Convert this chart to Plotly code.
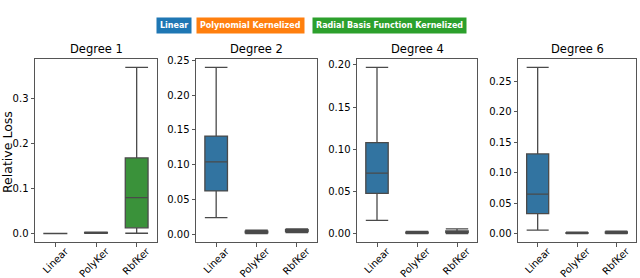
import plotly.graph_objects as go

methods = ["Linear", "PolyKer", "RbfKer"]
panel_titles = ["Degree 1", "Degree 2", "Degree 4", "Degree 6"]
legend_labels = ["Linear", "Polynomial Kernelized", "Radial Basis Function Kernelized"]

# box stats per panel, per method: [lowerfence, q1, median, q3, upperfence]
deg1 = [[0.0, 0.0002, 0.0004, 0.0006, 0.0009],
        [0.0008, 0.0015, 0.002, 0.0028, 0.0035],
        [0.001, 0.013, 0.080, 0.168, 0.369]]
deg2 = [[0.0236, 0.062, 0.104, 0.141, 0.240],
        [0.0005, 0.0018, 0.003, 0.0042, 0.0055],
        [0.002, 0.0035, 0.005, 0.0062, 0.0075]]
deg4 = [[0.016, 0.048, 0.072, 0.108, 0.197],
        [0.0003, 0.001, 0.0015, 0.002, 0.003],
        [0.0003, 0.0015, 0.0025, 0.0035, 0.006]]
deg6 = [[0.006, 0.033, 0.065, 0.131, 0.273],
        [0.0002, 0.0008, 0.0012, 0.0018, 0.0028],
        [0.0002, 0.001, 0.0018, 0.003, 0.0045]]
panels = [deg1, deg2, deg4, deg6]

ytick_vals = [[0.0, 0.1, 0.2, 0.3],
              [0.0, 0.05, 0.10, 0.15, 0.20, 0.25],
              [0.0, 0.05, 0.10, 0.15, 0.20],
              [0.0, 0.05, 0.10, 0.15, 0.20, 0.25]]
ytick_text = [["0.0", "0.1", "0.2", "0.3"],
              ["0.00", "0.05", "0.10", "0.15", "0.20", "0.25"],
              ["0.00", "0.05", "0.10", "0.15", "0.20"],
              ["0.00", "0.05", "0.10", "0.15", "0.20", "0.25"]]

box_colors = ["#3274a1", "#e1812c", "#3a923a"]
legend_colors = ["#1f77b4", "#ff7f0e", "#2ca02c"]
line_color = "#4a4a4a"
frame_color = "#555555"

W, H = 640, 278
px_x = [(35, 157), (196, 317), (357, 477), (518, 636)]
px_y = (59, 242)

fig = go.Figure()
font = "DejaVu Sans"

for i, stats in enumerate(panels):
    ax = "" if i == 0 else str(i + 1)
    for j, m in enumerate(methods):
        lo, q1, med, q3, hi = stats[j]
        fig.add_trace(go.Box(
            x=[m], q1=[q1], median=[med], q3=[q3],
            lowerfence=[lo], upperfence=[hi],
            fillcolor=box_colors[j],
            line=dict(color=line_color, width=1.3),
            whiskerwidth=1,
            boxpoints=False,
            showlegend=False,
            xaxis="x" + ax, yaxis="y" + ax,
        ))
    ymax = max(s[4] for s in stats)
    ymin = min(s[0] for s in stats)
    span = ymax - ymin
    yr = [ymin - 0.05 * span, ymax + 0.05 * span]
    x0, x1 = px_x[i]
    xd = [x0 / W, x1 / W]
    yd = [1 - px_y[1] / H, 1 - px_y[0] / H]
    axis_common = dict(showline=True, mirror=True, linecolor=frame_color, linewidth=1,
                       ticks="outside", ticklen=3.5, tickcolor=frame_color, showgrid=False,
                       zeroline=False, automargin=False,
                       tickfont=dict(family=font, size=10, color="black"))
    fig.layout["xaxis" + ax] = dict(domain=xd, anchor="y" + ax, type="category",
                                    range=[-0.5, 2.5], tickangle=-45,
                                    ticklabelshift=10, ticklabelstandoff=-5,
                                    categoryorder="array", categoryarray=methods,
                                    **axis_common)
    fig.layout["yaxis" + ax] = dict(domain=yd, anchor="x" + ax, range=yr,
                                    tickvals=ytick_vals[i], ticktext=ytick_text[i],
                                    **axis_common)
    fig.add_annotation(x=(x0 + x1) / 2 / W, y=yd[1], xref="paper", yref="paper",
                       text=panel_titles[i], showarrow=False, yanchor="bottom",
                       xanchor="center", yshift=1,
                       font=dict(family=font, size=11.5, color="black"))

fig.add_annotation(x=7 / W, y=1 - 152 / H, xref="paper", yref="paper",
                   text="Relative Loss", textangle=-90, showarrow=False,
                   xanchor="center", yanchor="middle",
                   font=dict(family=font, size=12.5, color="black"))

leg_centers = [174, 250.5, 389]
for k, lab in enumerate(legend_labels):
    fig.add_annotation(x=leg_centers[k] / W, y=1 - 25.5 / H, xref="paper", yref="paper",
                       text="<b>" + lab + "</b>", showarrow=False,
                       xanchor="center", yanchor="middle",
                       bgcolor=legend_colors[k], borderpad=3,
                       font=dict(family=font, size=8, color="white"))

fig.update_layout(width=W, height=H, margin=dict(l=0, r=0, t=0, b=0, autoexpand=False),
                  paper_bgcolor="white", plot_bgcolor="white",
                  boxmode="overlay", boxgap=0.2, showlegend=False)

fig.write_html("out.html", config={"displayModeBar": False},
               post_script="document.body.style.margin='0';")
